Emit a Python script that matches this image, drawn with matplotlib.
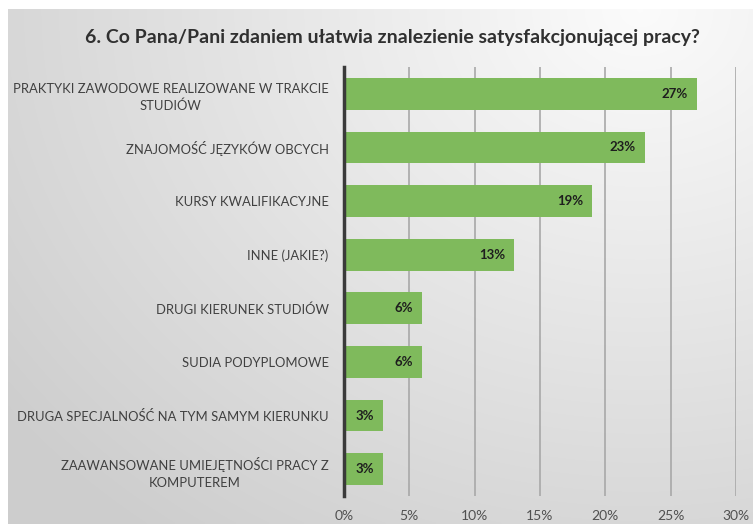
import numpy as np
import matplotlib
matplotlib.use("Agg")
import matplotlib.pyplot as plt
from matplotlib import transforms

categories = [
    "PRAKTYKI ZAWODOWE REALIZOWANE W TRAKCIE\nSTUDIÓW",
    "ZNAJOMOŚĆ JĘZYKÓW OBCYCH",
    "KURSY KWALIFIKACYJNE",
    "INNE (JAKIE?)",
    "DRUGI KIERUNEK STUDIÓW",
    "SUDIA PODYPLOMOWE",
    "DRUGA SPECJALNOŚĆ NA TYM SAMYM KIERUNKU",
    "ZAAWANSOWANE UMIEJĘTNOŚCI PRACY Z\nKOMPUTEREM",
]
values = [27, 23, 19, 13, 6, 6, 3, 3]
xticks = [0, 5, 10, 15, 20, 25, 30]
xticklabels = ["0%", "5%", "10%", "15%", "20%", "25%", "30%"]
title = "6. Co Pana/Pani zdaniem ułatwia znalezienie satysfakcjonującej pracy?"

plt.rcParams['font.family'] = ['Lato', 'DejaVu Sans']

W, H = 753, 524
fig = plt.figure(figsize=(W / 100, H / 100), dpi=100)
fig.patch.set_facecolor("white")

# background gradient panel
bg = fig.add_axes([8 / W, 0, 1 - 8 / W, 1 - 9 / H], zorder=0)
ny, nx = 200, 300
yy, xx = np.mgrid[0:1:ny * 1j, 0:1:nx * 1j]
d = np.sqrt(((xx - 0.85) * 1.2) ** 2 + (yy * 1.0) ** 2)
val = 0.985 - 0.18 * np.clip(d, 0, 1.3) / 1.3
rgb = np.dstack([val, val, val])
bg.imshow(rgb, aspect="auto", extent=[0, 1, 1, 0], interpolation="bilinear")
bg.set_axis_off()

ax = fig.add_axes([344 / W, 1 - 496 / H, (736 - 344) / W, (496 - 67) / H], zorder=1)
ax.patch.set_alpha(0)

y = np.arange(len(categories))
ax.barh(y, values, height=0.59, color="#7fba5c", zorder=3)
ax.set_ylim(len(categories) - 0.5, -0.5)
ax.set_xlim(0, 30)

ax.set_xticks(xticks)
ax.set_xticklabels(xticklabels, fontsize=10, color="#505050")
ax.set_yticks(y)
ax.set_yticklabels(categories, fontsize=9.35, color="#404040",
                   multialignment="center", linespacing=1.5)
ax.tick_params(axis="both", length=0)
ax.tick_params(axis="x", pad=10)
ax.tick_params(axis="y", pad=11)

ax.grid(axis="x", color="#a8a8a8", linewidth=1.2, zorder=1)
for s in ["top", "right", "bottom"]:
    ax.spines[s].set_visible(False)
ax.spines["left"].set_color("#3a3a3a")
ax.spines["left"].set_linewidth(2.5)
ax.spines["left"].set_zorder(4)

offset = transforms.offset_copy(ax.transData, fig=fig, x=-9, y=0, units="dots")
for yi, v in zip(y, values):
    ax.text(v, yi, f"{v}%", transform=offset, ha="right", va="center",
            fontsize=9.5, fontweight="bold", color="#1e1e1e", zorder=5)

fig.text(0.521, 1 - 37 / H, title, ha="center", va="center",
         fontsize=14, fontweight="bold", color="#303030")

fig.savefig("out.png", dpi=100)
